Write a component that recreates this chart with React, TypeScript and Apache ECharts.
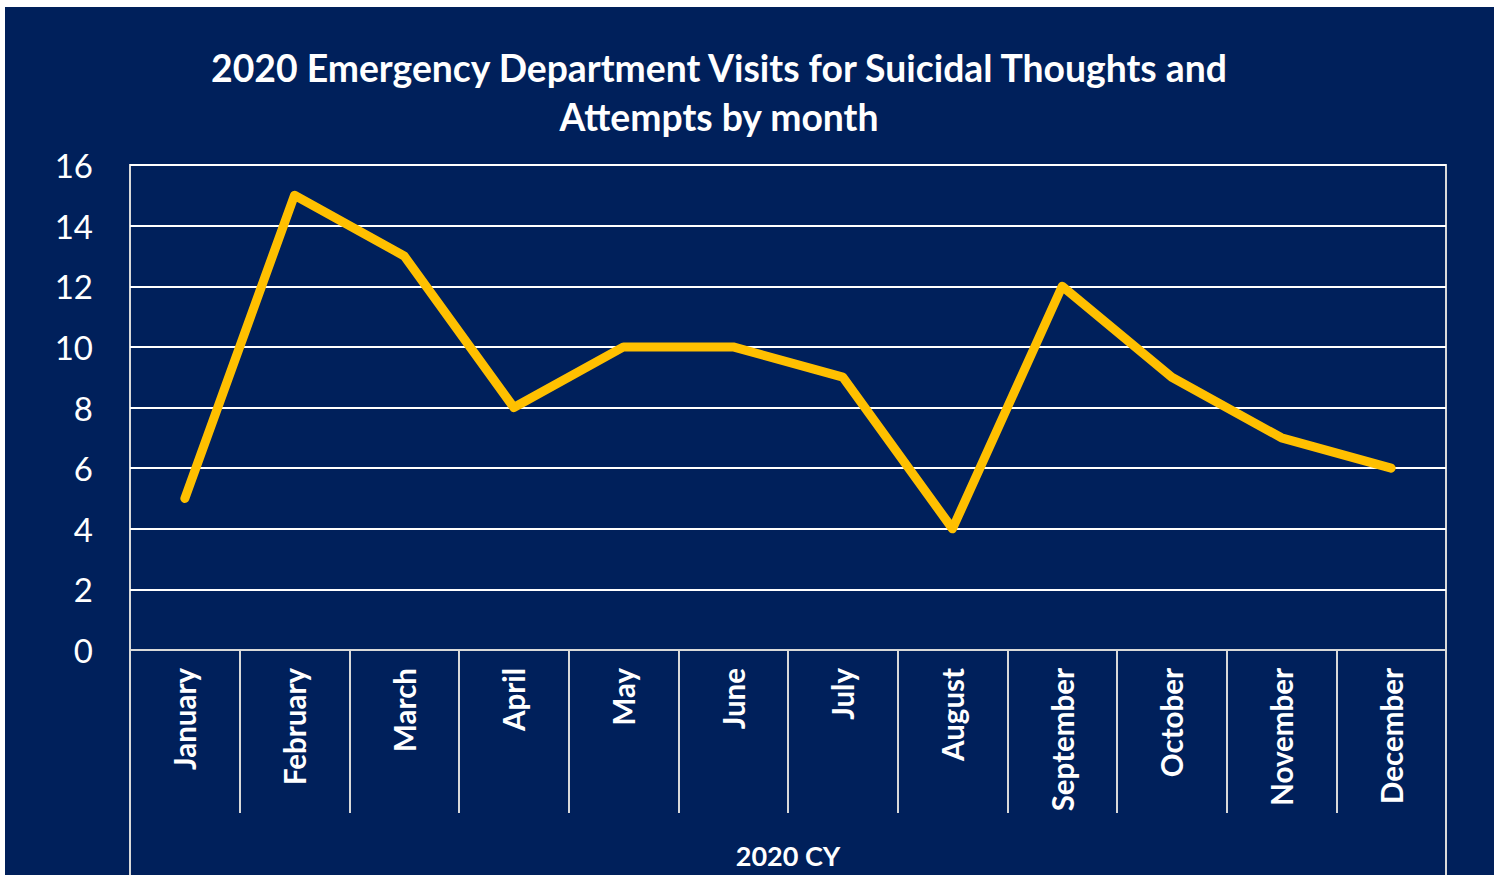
import React, { useEffect, useRef } from "react";
import * as echarts from "echarts";

const months = ["January", "February", "March", "April", "May", "June", "July", "August", "September", "October", "November", "December"];
const visits = [5, 15, 13, 8, 10, 10, 9, 4, 12, 9, 7, 6];
const titleText = "2020 Emergency Department Visits for Suicidal Thoughts and\nAttempts by month";
const xAxisTitle = "2020 CY";

const W = 1489;
const H = 868;
const GL = 125;
const GR = 48;
const GT = 158;
const GB = 225;

export default function App() {
  const ref = useRef<HTMLDivElement>(null);
  useEffect(() => {
    document.body.style.margin = "0";
    const chart = echarts.init(ref.current!, null, { renderer: "svg" });
    const font = "Lato, 'Open Sans', sans-serif";
    const gx0 = GL;
    const gx1 = W - GR;
    const gy1 = H - GB;
    chart.setOption({
      animation: false,
      backgroundColor: "#00205B",
      title: {
        text: titleText,
        left: 709,
        textAlign: "center",
        top: 31,
        textStyle: { color: "#ffffff", fontFamily: font, fontWeight: "bold", fontSize: 37.3, lineHeight: 49 },
      },
      grid: { left: GL, right: GR, top: GT, bottom: GB, show: true, borderColor: "#d9d9d9", borderWidth: 2, backgroundColor: "transparent" },
      xAxis: {
        type: "category",
        data: months,
        boundaryGap: true,
        axisLine: { show: true, lineStyle: { color: "#d9d9d9", width: 2 } },
        axisTick: { show: true, interval: 0, length: 163, lineStyle: { color: "#d9d9d9", width: 2 } },
        axisLabel: {
          interval: 0,
          rotate: 90,
          margin: 18,
          color: "#ffffff",
          fontFamily: font,
          fontWeight: "bold",
          fontSize: 29.5,
        },
      },
      yAxis: {
        type: "value",
        min: 0,
        max: 16,
        interval: 2,
        axisLine: { show: false },
        axisTick: { show: false },
        axisLabel: { color: "#ffffff", fontFamily: font, fontSize: 33, margin: 37 },
        splitLine: { show: true, lineStyle: { color: "#ffffff", width: 2 } },
      },
      series: [
        {
          type: "line",
          data: visits,
          symbol: "none",
          lineStyle: { color: "#FFC000", width: 9, join: "round", cap: "round" },
        },
      ],
      graphic: [
        { type: "line", shape: { x1: gx0, y1: gy1, x2: gx0, y2: H }, style: { stroke: "#d9d9d9", lineWidth: 2 } },
        { type: "line", shape: { x1: gx1, y1: gy1, x2: gx1, y2: H }, style: { stroke: "#d9d9d9", lineWidth: 2 } },
        {
          type: "text",
          x: (gx0 + gx1) / 2,
          y: 855 - 7,
          style: { text: xAxisTitle, fill: "#ffffff", font: `bold 27px ${font}`, textAlign: "center", textVerticalAlign: "middle" },
        },
      ],
    });
    return () => chart.dispose();
  }, []);
  return (
    <div style={{ position: "relative", width: 1503, height: 875, background: "#ffffff", overflow: "hidden" }}>
      <div ref={ref} style={{ position: "absolute", left: 5, top: 7, width: W, height: H }} />
    </div>
  );
}
